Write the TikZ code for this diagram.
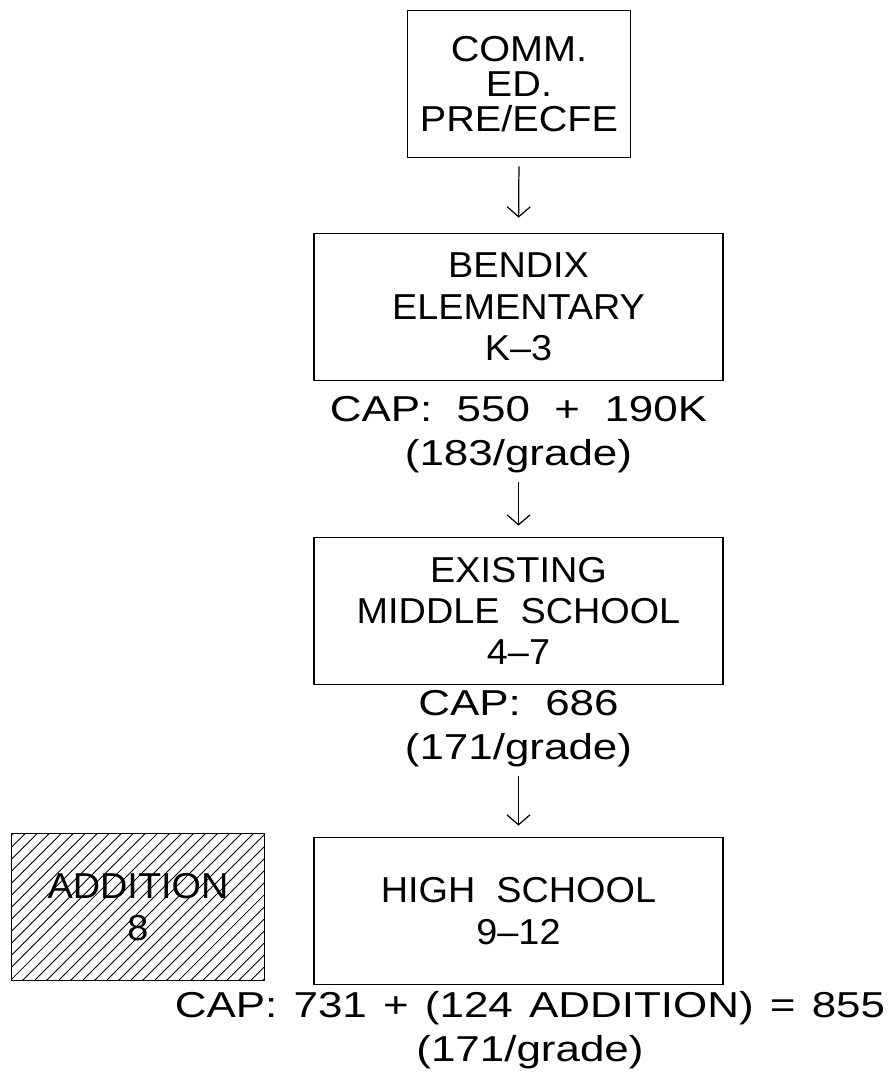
\documentclass[tikz,border=0pt]{standalone}
\usepackage{fontspec}
\setmainfont{Liberation Sans}
\newfontfamily\labelfont{Liberation Sans}[Ligatures=TeX,FakeStretch=1.05]
\newfontfamily\widelabelfont{Liberation Sans}[Ligatures=TeX,FakeStretch=1.1]
\newfontfamily\capfont{Liberation Sans}[Ligatures=TeX,FakeStretch=1.22]
\usetikzlibrary{arrows.meta,patterns.meta}
\newcommand{\capgap}{\hspace{0.45em}}

\tikzset{
  school/.style={draw, line width=1pt, minimum width=8.18cm, minimum height=2.94cm,
    align=center, inner sep=0pt, font=\labelfont\fontsize{20.5}{23.5}\selectfont},
  capnote/.style={align=center, inner sep=0pt, font=\capfont\fontsize{20.5}{25}\selectfont},
  flow/.style={-{Straight Barb[length=2mm,width=4.6mm]}, line width=0.7pt},
}

\begin{document}
\begin{tikzpicture}[x=0.02cm, y=-0.02cm]
        \useasboundingbox (0,0) rectangle (891,1075);
        % schools
        \node[school, minimum width=4.46cm, font=\widelabelfont\fontsize{20.5}{20}\selectfont] (comm) at (519,84) {COMM.\\ED.\\PRE/ECFE};
        \node[school] (bendix) at (518.5,307) {BENDIX\\ELEMENTARY\\K--3};
        \node[capnote] (bendixcap) at (518.5,435) {CAP:\ \ 550\ \ +\ \ 190K\\(183/grade)};
        \node[school] (middle) at (518.5,611) {EXISTING\\MIDDLE\ \ SCHOOL\\4--7};
        \node[capnote] (middlecap) at (518.5,729) {CAP:\ \ 686\\(171/grade)};
        \node[school] (high) at (518.5,911) {HIGH\ \ SCHOOL\\9--12};
        \node[capnote] (highcap) at (530,1030) {CAP:\capgap731\capgap+\capgap(124\capgap ADDITION)\capgap=\capgap855\\(171/grade)};
        \node[school, minimum width=5.06cm, pattern={Lines[angle=45,distance=0.17cm,line width=0.5pt]}] (addition) at (138,907) {ADDITION\\8};
        % arrows
        \draw[flow, shorten <=0.16cm, shorten >=0.3cm] (comm.south) -- (bendix.north);
        \draw[flow, shorten <=0.16cm, shorten >=0.22cm] (bendixcap.south) -- (middle.north);
        \draw[flow, shorten <=0.16cm, shorten >=0.22cm] (middlecap.south) -- (high.north);
\end{tikzpicture}
\end{document}
